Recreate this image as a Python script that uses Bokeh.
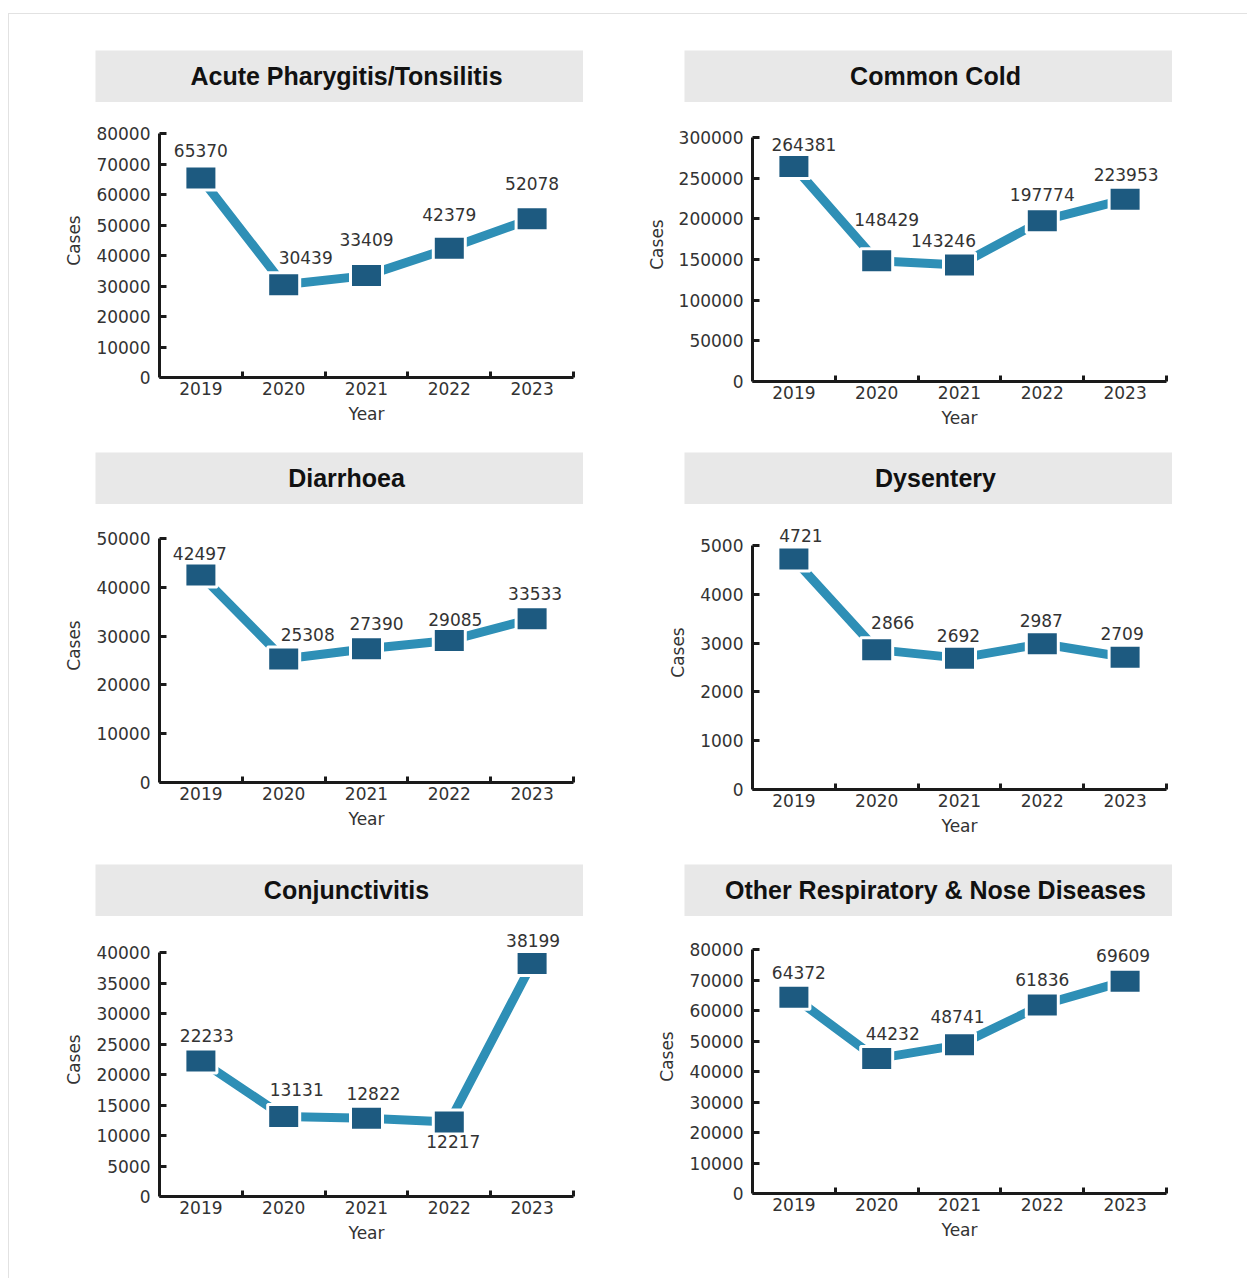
from bokeh.plotting import figure
from bokeh.models import (Range1d, FixedTicker, ColumnDataSource, Spacer)
from bokeh.layouts import column, row
from bokeh.core.properties import value
from bokeh.embed import file_html
from bokeh.resources import INLINE

# ---------------- data ----------------
years = ["2019", "2020", "2021", "2022", "2023"]
titles = ["Acute Pharygitis/Tonsilitis", "Common Cold", "Diarrhoea",
          "Dysentery", "Conjunctivitis", "Other Respiratory & Nose Diseases"]
acute = [65370, 30439, 33409, 42379, 52078]
common_cold = [264381, 148429, 143246, 197774, 223953]
diarrhoea = [42497, 25308, 27390, 29085, 33533]
dysentery = [4721, 2866, 2692, 2987, 2709]
conjunctivitis = [22233, 13131, 12822, 12217, 38199]
other_resp = [64372, 44232, 48741, 61836, 69609]
series = [acute, common_cold, diarrhoea, dysentery, conjunctivitis, other_resp]
y_max = [80000, 300000, 50000, 5000, 40000, 80000]
y_step = [10000, 50000, 10000, 1000, 5000, 10000]

# ---------------- layout / style (not data) ----------------
# label offsets in screen px (dx, dy; dy positive = down)
label_dx = [[0, 22, 0, 0, 0], [10, 10, -16, 0, 1], [-1, 24, 10, 6, 3],
            [7, 16, -1, -1, -3], [6, 13, 7, 4, 1], [5, 16, -2, 0, -2]]
label_dy = [[-28, -27, -36, -34, -35], [-22, -41, -24, -26, -25], [-22, -24, -25, -21, -25],
            [-24, -27, -23, -23, -24], [-25, -27, -25, 20, -23], [-25, -25, -28, -25, -26]]
zero_px = [377, 381, 782, 789, 1196, 1193]
title_top = [50, 50, 452, 452, 864, 864]
axis_x = [159, 752]
title_left = [95, 684]
FRAME_W, FRAME_H = 414, 244
EXTRA = 30
MB_LEFT, MB_RIGHT, MB_BOTTOM = 121, 12, 58
TITLE_W, TITLE_H = 488, 52
OX, OY = 9, 14

LINE_COLOR = "#2e8fb6"
MARK_COLOR = "#1d5a80"
TXT = "#333333"
FONT = "DejaVu Sans"


def make_title(text):
    t = figure(width=TITLE_W, height=TITLE_H, x_range=Range1d(0, 1), y_range=Range1d(0, 1),
               x_axis_type=None, y_axis_type=None, toolbar_location=None,
               output_backend="svg", min_border=0, outline_line_color=None,
               background_fill_color="#e8e8e8", border_fill_color="#e8e8e8")
    t.grid.visible = False
    t.text(x=[0.5], y=[0.5], text=[text], x_offset=7, y_offset=-1,
           text_align="center", text_baseline="middle",
           text_font=value("Liberation Sans"), text_font_style="bold",
           text_font_size="25px", text_color="#111111")
    return t


def make_plot(i):
    vals = series[i]
    ymax = y_max[i]
    frame_total = FRAME_H + EXTRA
    frame_top = zero_px[i] - frame_total
    mb_top = frame_top - (title_top[i] + TITLE_H)
    p = figure(frame_width=FRAME_W, frame_height=frame_total,
               x_range=Range1d(0, len(years)),
               y_range=Range1d(0, ymax * frame_total / FRAME_H),
               toolbar_location=None, output_backend="svg",
               min_border_left=MB_LEFT, min_border_right=MB_RIGHT,
               min_border_top=mb_top, min_border_bottom=MB_BOTTOM,
               outline_line_color=None, background_fill_color="white")
    p.grid.visible = False

    xs = [k + 0.5 for k in range(len(years))]
    src = ColumnDataSource(dict(x=xs, y=vals, lab=[str(v) for v in vals],
                                dx=label_dx[i], dy=label_dy[i]))
    p.line("x", "y", source=src, line_width=9, line_color=LINE_COLOR)
    p.rect("x", "y", width=32, height=24, width_units="screen", height_units="screen",
           source=src, fill_color=MARK_COLOR, line_color="white", line_width=3)
    p.text("x", "y", text="lab", x_offset="dx", y_offset="dy", source=src,
           text_align="center", text_baseline="middle", text_font=value(FONT),
           text_font_size="17px", text_color=TXT)

    # x axis
    xa = p.xaxis[0]
    xa.ticker = FixedTicker(ticks=xs, minor_ticks=list(range(1, len(years) + 1)))
    xa.major_label_overrides = {x: y for x, y in zip(xs, years)}
    xa.bounds = (0, len(years))
    xa.major_tick_in = 0
    xa.major_tick_out = 0
    xa.minor_tick_in = 6
    xa.minor_tick_out = 0
    xa.minor_tick_line_width = 3
    xa.minor_tick_line_color = "#1a1a1a"
    xa.axis_label = "Year"
    xa.major_label_standoff = 4
    xa.axis_label_standoff = 6

    # y axis
    ya = p.yaxis[0]
    ya.ticker = FixedTicker(ticks=list(range(0, ymax + 1, y_step[i])))
    ya.bounds = (0, ymax)
    ya.major_tick_in = 7
    ya.major_tick_out = 0
    ya.major_tick_line_width = 3
    ya.major_tick_line_color = "#1a1a1a"
    ya.minor_tick_line_color = None
    ya.axis_label = "Cases"
    ya.major_label_standoff = 9
    ya.axis_label_standoff = 9
    ya.formatter.use_scientific = False

    for ax in (xa, ya):
        ax.axis_line_width = 3
        ax.axis_line_color = "#1a1a1a"
        ax.major_label_text_font = FONT
        ax.major_label_text_font_size = "17px"
        ax.major_label_text_color = TXT
        ax.axis_label_text_font = FONT
        ax.axis_label_text_font_size = "17px"
        ax.axis_label_text_font_style = "normal"
        ax.axis_label_text_color = TXT
    return p, mb_top + frame_total + MB_BOTTOM


cells = []
cell_h = []
for i in range(6):
    c = i % 2
    p, ph = make_plot(i)
    t = make_title(titles[i])
    cell_left = axis_x[c] - MB_LEFT
    tx = title_left[c] - cell_left
    cells.append(column(row(Spacer(width=tx, height=TITLE_H), t), p))
    cell_h.append(TITLE_H + ph)

left_cell_w = max(MB_LEFT + FRAME_W + MB_RIGHT, title_left[0] - (axis_x[0] - MB_LEFT) + TITLE_W)
rows = []
cur_y = OY
for r in range(3):
    top = title_top[2 * r]
    rows.append(Spacer(width=10, height=top - cur_y))
    l_left = axis_x[0] - MB_LEFT
    r_left = axis_x[1] - MB_LEFT
    rows.append(row(Spacer(width=l_left - OX, height=10), cells[2 * r],
                    Spacer(width=r_left - (l_left + left_cell_w), height=10), cells[2 * r + 1]))
    cur_y = top + max(cell_h[2 * r], cell_h[2 * r + 1])

content = column(*rows)

page = column(
    Spacer(width=10, height=13),
    row(Spacer(width=8, height=1), Spacer(width=1239, height=1, styles={"background-color": "#e2e2e2"})),
    row(Spacer(width=8, height=1264), Spacer(width=1, height=1264, styles={"background-color": "#e2e2e2"}), content),
)

open("out.html", "w").write(file_html(page, INLINE))
